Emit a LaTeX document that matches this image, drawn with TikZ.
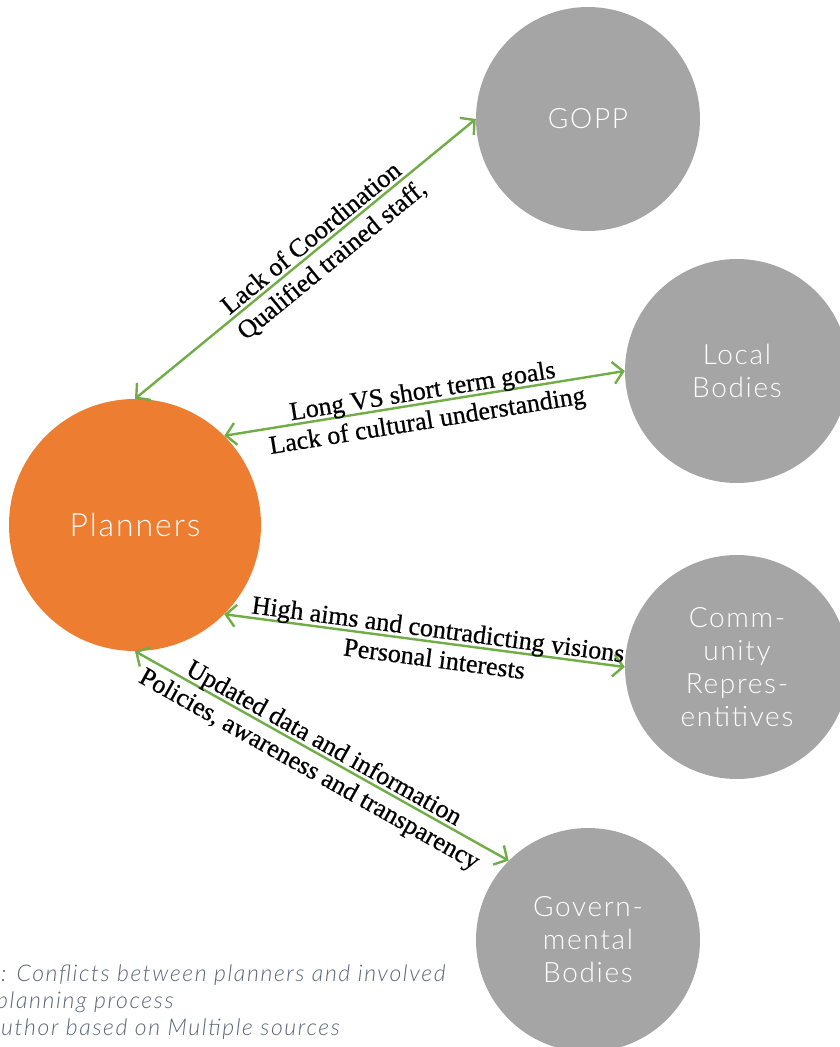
\documentclass[tikz,border=0pt]{standalone}
\usepackage{fontspec}
\setmainfont{Liberation Serif}[FakeBold=0.6]
\newfontfamily\lightsans{Lato Light}[LetterSpace=6]
\newfontfamily\capsans{Lato Light}[LetterSpace=7]
\usetikzlibrary{arrows.meta}
\definecolor{cgrey}{HTML}{A5A5A5}
\definecolor{corange}{HTML}{ED7D31}
\definecolor{cgreen}{HTML}{70AD47}
\definecolor{ccap}{HTML}{5A6478}
\newcommand{\up}[1]{\raisebox{4.5pt}{#1}}
\begin{document}
\begin{tikzpicture}[x=1pt,y=-1pt,
  ent/.style={circle, fill=cgrey, minimum size=224pt, inner sep=0pt, text=white,
    font=\lightsans\fontsize{28}{33}\selectfont, align=center},
  hub/.style={ent, fill=corange, minimum size=252pt, font=\lightsans\fontsize{32}{33}\selectfont},
  link/.style={draw=cgreen, line width=2.4pt,
    {Straight Barb[length=10pt,width=22pt]}-{Straight Barb[length=10pt,width=22pt]}},
  labup/.style={sloped, anchor=base, font=\fontsize{26}{28}\selectfont, inner sep=0pt},
  labdn/.style={sloped, below, font=\fontsize{26}{28}\selectfont, inner sep=6pt},
  captext/.style={anchor=base west, inner sep=0pt, text=ccap, font=\capsans\itshape\fontsize{23}{26}\selectfont}]
\useasboundingbox (0,0) rectangle (839,1047);
\node[hub] (pl) at (135,525) {Planners};
\node[ent] (gopp) at (588,119) {GOPP};
\node[ent] (lb) at (737,371) {Local\\Bodies};
\node[ent] (cr) at (737,667) {Comm-\\unity\\Repres-\\entitives};
\node[ent] (gb) at (588,940) {Govern-\\mental\\Bodies};
\draw[link] (pl.north) -- (gopp.west)
  node[labup, pos=.54] {\up{Lack of Coordination}}
  node[labdn, pos=.545] {Qualified trained staff,};
\draw[link] (pl.north east) -- (lb.west)
  node[labup, pos=.5] {\up{Long VS short term goals}}
  node[labdn, pos=.5] {Lack of cultural understanding};
\draw[link] (pl.south east) -- (cr.west)
  node[labup, pos=.53] {\up{High aims and contradicting visions}}
  node[labdn, pos=.53] {Personal interests};
\draw[link] (pl.south) -- (gb.north west)
  node[labup, pos=.49] {\up{Updated data and information}}
  node[labdn, pos=.49] {Policies, awareness and transparency};
\node[captext] (c1) at (1,981) {: Conflicts between planners and involved};
\node[captext] (c2) at (-4,1008) {planning process};
\node[captext] (c3) at (1,1035) {uthor based on Multiple sources};
\end{tikzpicture}
\end{document}
